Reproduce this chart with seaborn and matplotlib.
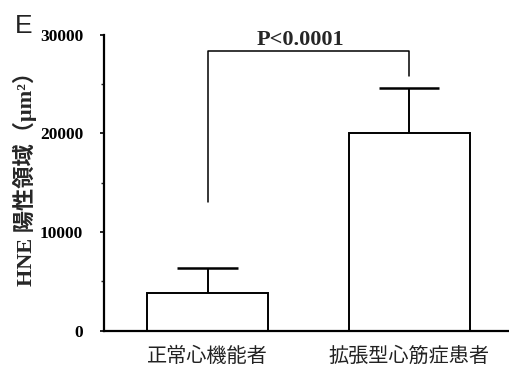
import numpy as np
import pandas as pd
import matplotlib
matplotlib.use('Agg')
import matplotlib.pyplot as plt
from matplotlib.ticker import MultipleLocator
import seaborn as sns

# values
groups = ['正常心機能者', '拡張型心筋症患者']
means = [3800, 20000]
sd_upper = [2600, 4600]
p_label = 'P<0.0001'
bracket_top = 28400
bracket_legs = [13000, 25800]

sns.set_theme(style='white')
plt.rcParams['font.family'] = ['Liberation Serif', 'Noto Sans CJK JP', 'DejaVu Sans']

df = pd.DataFrame({'group': groups, 'area': means})
xpos = np.arange(len(groups))

fig = plt.figure(figsize=(5.09, 3.67), dpi=100)
ax = fig.add_axes([0.204, 0.099, 0.796, 0.806])

sns.barplot(data=df, x='group', y='area', order=groups, width=0.6,
            color='white', edgecolor='black', linewidth=1.4, errorbar=None, ax=ax)

# upper-only error bars: stem plus a cap at the top
tops = np.array(means) + np.array(sd_upper)
ax.vlines(xpos, means, tops, color='black', lw=1.4)
ax.hlines(tops, xpos - 0.15, xpos + 0.15, color='black', lw=1.8)

# significance bracket
ax.plot([0, 0, 1, 1], [bracket_legs[0], bracket_top, bracket_top, bracket_legs[1]],
        color='black', lw=1.1)
ax.text(0.46, bracket_top + 600, p_label, ha='center', va='baseline',
        fontsize=16, fontweight='bold', family='Liberation Serif')

ax.set_xlim(-0.515, 1.495)
ax.set_ylim(0, 30000)
ax.yaxis.set_major_locator(MultipleLocator(10000))
ax.yaxis.set_minor_locator(MultipleLocator(5000))

for side in ['top', 'right']:
    ax.spines[side].set_visible(False)
for side in ['left', 'bottom']:
    ax.spines[side].set_color('black')
    ax.spines[side].set_linewidth(1.6)

ax.tick_params(axis='y', which='major', left=True, length=3, width=1.2, pad=12,
               labelsize=12.5, colors='black')
ax.tick_params(axis='y', which='minor', left=True, length=2, width=1.0)
for lab in ax.get_yticklabels():
    lab.set_fontweight('bold')
    lab.set_family('Liberation Serif')

ax.tick_params(axis='x', bottom=False, pad=5)
ax.set_xticks(xpos)
ax.set_xticklabels(groups, fontsize=14.5, family=['Noto Sans CJK JP'], color='#222222')

ax.set_xlabel('')
ax.set_ylabel('HNE 陽性領域（μm²）', fontsize=16, fontweight='bold',
              family=['Liberation Serif', 'Noto Sans CJK JP'])
ax.yaxis.set_label_coords(-0.165, 0.53)

fig.text(0.03, 0.91, 'E', fontsize=19, family=['Liberation Sans'], color='#222222')

fig.savefig('out.png', dpi=100, facecolor='white')
